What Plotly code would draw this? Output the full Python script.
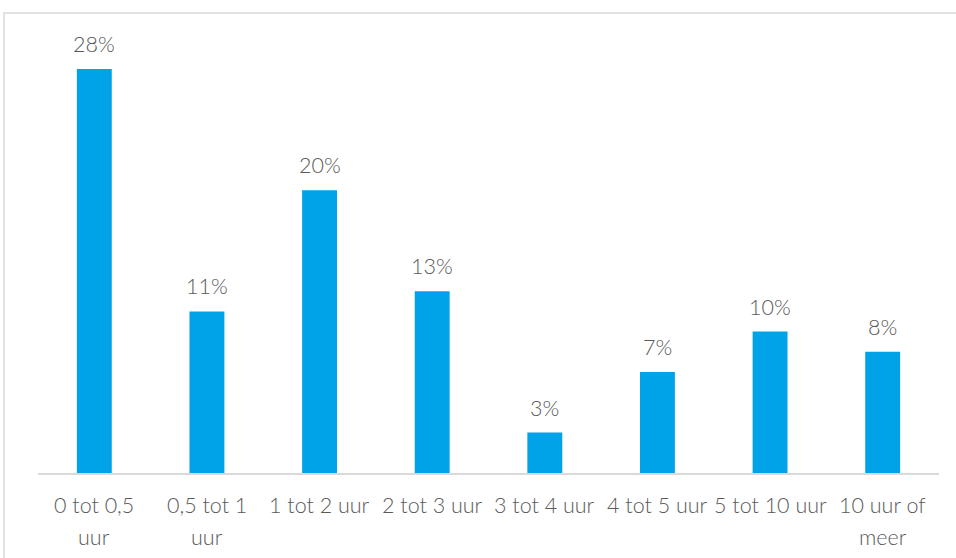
import plotly.graph_objects as go

categories = ["0 tot 0,5 uur", "0,5 tot 1 uur", "1 tot 2 uur", "2 tot 3 uur",
              "3 tot 4 uur", "4 tot 5 uur", "5 tot 10 uur", "10 uur of meer"]
label_lines = [["0 tot 0,5", "uur"], ["0,5 tot 1", "uur"], ["1 tot 2 uur"], ["2 tot 3 uur"],
               ["3 tot 4 uur"], ["4 tot 5 uur"], ["5 tot 10 uur"], ["10 uur of", "meer"]]
values = [28.0, 11.2, 19.6, 12.6, 2.8, 7.0, 9.8, 8.4]

FONT = "Lato"
GRAY = "#595959"
FS = 21.5

fig = go.Figure(go.Bar(
    x=categories, y=values,
    marker=dict(color="#00a3e8", line=dict(width=0)),
    width=0.31,
))

annotations = []
for c, v in zip(categories, values):
    annotations.append(dict(x=c, y=v, xref="x", yref="y", text=f"{v:.0f}%",
                            showarrow=False, yanchor="middle", yshift=25,
                            font=dict(family=FONT, size=FS, color=GRAY, weight=300)))
for c, lines in zip(categories, label_lines):
    for i, ln in enumerate(lines):
        annotations.append(dict(x=c, y=0, xref="x", yref="paper", text=ln,
                                showarrow=False, yanchor="middle", yshift=-32 - 32 * i,
                                font=dict(family=FONT, size=FS, color=GRAY, weight=300)))

fig.update_layout(
    width=956, height=558,
    margin=dict(l=38, r=17, t=20, b=85),
    plot_bgcolor="white", paper_bgcolor="white",
    showlegend=False,
    bargap=0.69,
    font=dict(family=FONT, size=FS, color=GRAY),
    xaxis=dict(showline=True, linecolor="#d9d9d9", linewidth=2, ticks="",
               showticklabels=False, showgrid=False, zeroline=False),
    yaxis=dict(visible=False, range=[0, 31.4], showgrid=False, zeroline=False),
    annotations=annotations,
    shapes=[dict(type="rect", xref="paper", yref="paper",
                 x0=-0.0377, x1=1.1, y0=-0.4, y1=1.0155,
                 line=dict(color="#d9d9d9", width=1.5), layer="below")],
)

fig.write_html("out.html", config={"displayModeBar": False},
               post_script="document.body.style.margin='0';")
